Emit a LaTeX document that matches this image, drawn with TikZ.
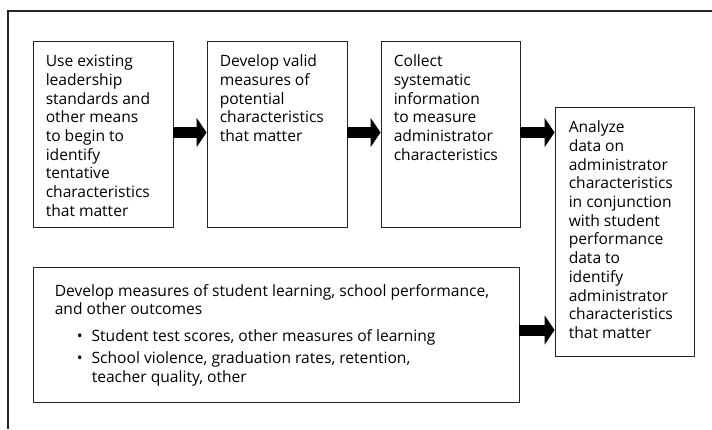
\documentclass[tikz,border=0pt]{standalone}
\usepackage{fontspec}
\setmainfont{Open Sans}
\usetikzlibrary{arrows.meta}
\newcommand{\topstrut}{\rule{0pt}{14pt}}
\tikzset{
  frameline/.style={draw=black!85, line width=1.2pt},
  boxframe/.style={draw=black!85, line width=0.9pt, rectangle, inner sep=0pt},
  boxtext/.style={anchor=north west, inner sep=0pt, align=left, font=\fontsize{15.6}{18.7}\selectfont},
  bigarrow/.style={line width=11pt, -{Triangle[length=10pt,width=29pt]}},
}
\begin{document}
\begin{tikzpicture}[x=1pt,y=-1pt]
\useasboundingbox (0,0) rectangle (712,429);
\draw[frameline] (8,429) -- (8,11) -- (712,11);
% boxes
\node[boxframe, minimum width=140pt, minimum height=186pt] (b1) at (103,134) {};
\node[boxframe, minimum width=140pt, minimum height=186pt] (b2) at (277,134) {};
\node[boxframe, minimum width=139pt, minimum height=186pt] (b3) at (450.5,134) {};
\node[boxframe, minimum width=139pt, minimum height=249pt] (b4) at (624.5,231.5) {};
\node[boxframe, minimum width=486pt, minimum height=135pt] (b5) at (276,334.5) {};
% texts (first baseline = top offset + 14pt)
\node[boxtext] (t1) at ([shift={(13pt,-12pt)}]b1.north west) {\topstrut Use existing\\leadership\\standards and\\other means\\to begin to\\identify\\tentative\\characteristics\\that matter};
\node[boxtext] (t2) at ([shift={(13pt,-12pt)}]b2.north west) {\topstrut Develop valid\\measures of\\potential\\characteristics\\that matter};
\node[boxtext] (t3) at ([shift={(13pt,-12pt)}]b3.north west) {\topstrut Collect\\systematic\\information\\to measure\\administrator\\characteristics};
\node[boxtext] (t4) at ([shift={(14pt,-12pt)}]b4.north west) {\topstrut Analyze\\data on\\administrator\\characteristics\\in conjunction\\with student\\performance\\data to\\identify\\administrator\\characteristics\\that matter};
\node[boxtext] (t5) at ([shift={(22pt,-15.5pt)}]b5.north west) {\topstrut Develop measures of student learning, school performance,\\and other outcomes};
\node[boxtext] (t6) at ([shift={(22pt,-61pt)}]b5.north west) {\topstrut\hspace{22pt}\textbullet\hspace{9pt}Student test scores, other measures of learning};
\node[boxtext] (t7) at ([shift={(22pt,-83pt)}]b5.north west) {\topstrut\hspace{22pt}\textbullet\hspace{9pt}School violence, graduation rates, retention,\\\hspace{37pt}teacher quality, other};
% arrows
\coordinate (r1) at (0,132.5);
\coordinate (r2) at (0,330);
\draw[bigarrow] (b1.east |- r1) -- (b2.west |- r1);
\draw[bigarrow] (b2.east |- r1) -- (b3.west |- r1);
\draw[bigarrow] (b3.east |- r1) -- (b4.west |- r1);
\draw[bigarrow] (b5.east |- r2) -- (b4.west |- r2);
\end{tikzpicture}
\end{document}
